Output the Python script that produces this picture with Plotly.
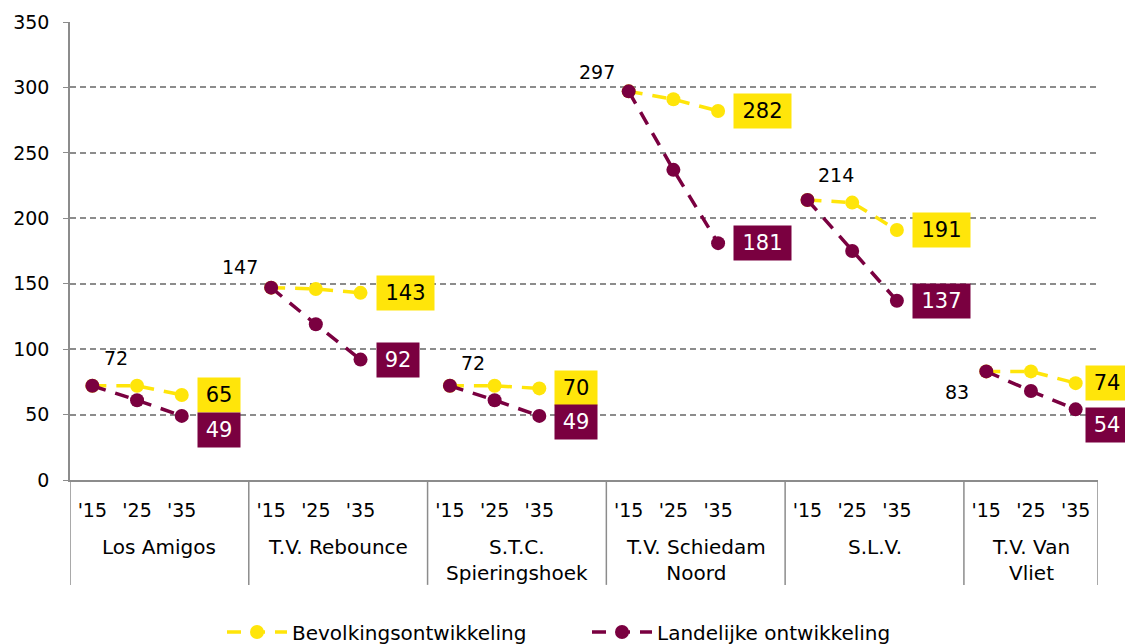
import plotly.graph_objects as go

groups = ["Los Amigos", "T.V. Rebounce", "S.T.C.<br>Spieringshoek",
          "T.V. Schiedam<br>Noord", "S.L.V.", "T.V. Van<br>Vliet"]
years = ["'15", "'25", "'35"]
bevolking = [[72, 72, 65], [147, 146, 143], [72, 72, 70],
             [297, 291, 282], [214, 212, 191], [83, 83, 74]]
landelijk = [[72, 61, 49], [147, 119, 92], [72, 61, 49],
             [297, 237, 181], [214, 175, 137], [83, 68, 54]]
series_names = ["Bevolkingsontwikkeling", "Landelijke ontwikkeling"]

# styling / label placement (pixels)
YELLOW = "#FFE50A"
MAROON = "#7A0040"
GREY = "#8C8C8C"
FONT = "DejaVu Sans"
first_label_shift = [(24, 28), (-31, 21), (23, 23), (-32, 19), (29, 25), (-29, -21)]
end_xshift = [15, 15, 15, 15, 15, 9]
maroon_end_yshift = [-14, 0, -6, 0, 0, -16]

def pos(g, i):
    return 4 * g + i

def build(series):
    xs, ys = [], []
    for g, vals in enumerate(series):
        for i, v in enumerate(vals):
            xs.append(pos(g, i))
            ys.append(v)
        xs.append(None)
        ys.append(None)
    return xs, ys

fig = go.Figure()
for series, name, color in [(bevolking, series_names[0], YELLOW),
                            (landelijk, series_names[1], MAROON)]:
    xs, ys = build(series)
    fig.add_trace(go.Scatter(
        x=xs, y=ys, name=name, mode="lines+markers",
        line=dict(color=color, width=3.5, dash="14px,10px"),
        marker=dict(color=color, size=14, symbol="circle"),
        connectgaps=False, cliponaxis=False,
    ))

annotations = []
for g in range(len(groups)):
    dx, dy = first_label_shift[g]
    annotations.append(dict(
        x=pos(g, 0), y=bevolking[g][0], xref="x", yref="y",
        text=str(bevolking[g][0]), showarrow=False,
        xshift=dx, yshift=dy, font=dict(family=FONT, size=19, color="black")))
    for series, bg, fc, ysh in [(bevolking, YELLOW, "black", 0),
                                (landelijk, MAROON, "white", maroon_end_yshift[g])]:
        v = series[g][2]
        annotations.append(dict(
            x=pos(g, 2), y=v, xref="x", yref="y", text=str(v), showarrow=False,
            xanchor="left", yanchor="middle", xshift=end_xshift[g], yshift=ysh,
            width=42 if v < 100 else 57, height=34, bgcolor=bg, borderpad=0,
            font=dict(family=FONT, size=21, color=fc)))
    cx = pos(g, 1.5) if g < len(groups) - 1 else pos(g, 1)
    annotations.append(dict(
        x=cx, y=0, xref="x", yref="paper", text=groups[g], showarrow=False,
        yanchor="top", yshift=-53, font=dict(family=FONT, size=20, color="black")))

shapes = []
n_slots = 4 * len(groups) - 1
div_x = [4 * g - 0.5 for g in range(len(groups))] + [n_slots - 0.5]
for x in div_x:
    shapes.append(dict(type="line", xref="x", yref="paper", x0=x, x1=x,
                       y0=0, y1=-0.229, line=dict(color=GREY, width=1.5)))

tickvals = [pos(g, i) for g in range(len(groups)) for i in range(3)]
ticktext = [years[i] for g in range(len(groups)) for i in range(3)]

fig.update_layout(
    width=1125, height=644,
    margin=dict(l=70, r=27, t=22, b=164, autoexpand=False),
    paper_bgcolor="white", plot_bgcolor="white",
    font=dict(family=FONT, size=19, color="black"),
    showlegend=True,
    legend=dict(orientation="h", x=(222 - 70) / 1028, xanchor="left",
                y=-(632 - 480) / 458, yanchor="middle",
                font=dict(family=FONT, size=20, color="black"),
                entrywidth=290, itemwidth=60),
    xaxis=dict(range=[-0.5, n_slots - 0.5], tickvals=tickvals, ticktext=ticktext,
               showgrid=False, zeroline=False, showline=True, linecolor=GREY,
               linewidth=1.5, ticks="", ticklabelstandoff=12,
               tickfont=dict(family=FONT, size=19, color="black")),
    yaxis=dict(range=[0, 350], dtick=50, tick0=0, showgrid=True, gridcolor=GREY,
               griddash="6px,4px", gridwidth=1.5, zeroline=False, showline=True,
               linecolor=GREY, linewidth=1.5, ticks="outside", ticklen=5,
               tickcolor=GREY, ticklabelstandoff=10,
               tickfont=dict(family=FONT, size=19, color="black")),
    annotations=annotations, shapes=shapes,
)

fig.write_html("out.html",
               config={"displayModeBar": False},
               post_script="document.body.style.margin='0';"
                           "document.body.style.overflow='hidden';")
